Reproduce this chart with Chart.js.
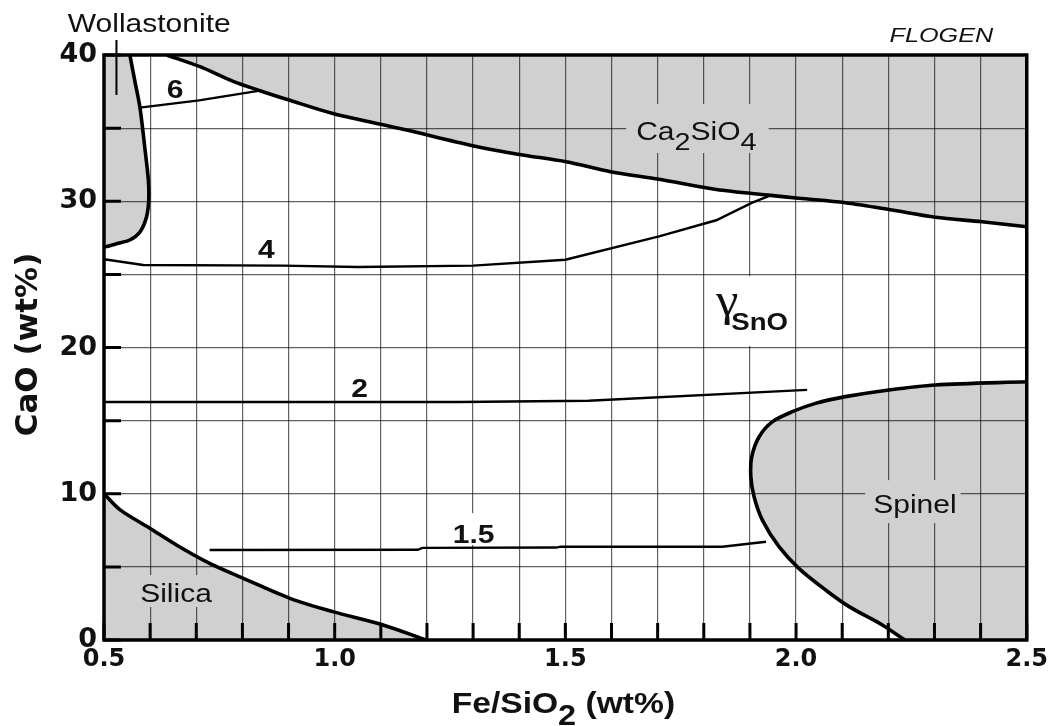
<!DOCTYPE html>
<html>
<head>
<meta charset="utf-8">
<script src="https://cdn.jsdelivr.net/npm/chart.js@4.4.1/dist/chart.umd.min.js"></script>
<style>
  body { margin: 0; background: #fff; }
  canvas { display: block; }
</style>
</head>
<body>
<canvas id="myChart" width="1053" height="726"></canvas>
<script>
const xTickLabels = ['0.5', '1.0', '1.5', '2.0', '2.5'];
const yTickLabels = ['0', '10', '20', '30', '40'];

// phase boundaries, points are [Fe/SiO2, CaO]
const wollastoniteBoundary = [[0.556, 40], [0.567, 38.2], [0.578, 36.4], [0.589, 33.5], [0.596, 31.5], [0.597, 30.1],
  [0.592, 28.9], [0.578, 27.9], [0.556, 27.35], [0.527, 27.1], [0.503, 26.9]];
const ca2sio4Boundary = [[0.636, 40], [0.708, 39.2], [0.78, 38.2], [0.838, 37.56], [0.903, 36.9], [0.996, 36.0],
  [1.151, 34.9], [1.299, 33.8], [1.40, 33.2], [1.502, 32.7], [1.60, 32.0], [1.703, 31.5], [1.827, 30.8],
  [1.945, 30.4], [2.006, 30.2], [2.107, 29.9], [2.208, 29.4], [2.302, 28.9], [2.403, 28.6], [2.5, 28.26]];
const silicaBoundary = [[0.5, 10.0], [0.535, 8.9], [0.6, 7.63], [0.657, 6.5], [0.729, 5.24], [0.802, 4.22],
  [0.903, 2.85], [0.996, 1.94], [1.105, 1.03], [1.198, 0]];
const spinelBoundary = [[2.5, 17.66], [2.302, 17.44], [2.201, 17.1], [2.107, 16.64], [2.042, 16.18], [1.992, 15.61],
  [1.949, 14.93], [1.92, 13.9], [1.904, 12.53], [1.902, 11.17], [1.909, 9.8], [1.927, 8.2], [1.963, 6.38],
  [2.006, 4.9], [2.064, 3.42], [2.115, 2.28], [2.187, 1.03], [2.23, 0.12], [2.235, 0]];

// corners outside the plot that close the shaded shapes
const wollastoniteClose = [[0.45, 26.9], [0.45, 41], [0.556, 41]];
const spinelClose = [[2.24, -1], [2.6, -1], [2.6, 17.7]];

// iso-activity lines of SnO
const contour6 = [[0.578, 36.4], [0.706, 36.9], [0.838, 37.56]];
const contour4 = [[0.5, 26.03], [0.585, 25.64], [0.888, 25.6], [1.05, 25.5], [1.30, 25.6], [1.50, 26.0],
  [1.703, 27.6], [1.827, 28.7], [1.905, 29.9], [1.945, 30.4]];
const contour2 = [[0.5, 16.27], [1.27, 16.27], [1.55, 16.36], [2.024, 17.1]];
const contour15 = [[0.729, 6.15], [1.18, 6.17], [1.19, 6.3], [1.48, 6.32], [1.49, 6.38], [1.84, 6.38], [1.935, 6.72]];
const wollastoniteMark = [[0.527, 41.03], [0.527, 37.26]];

const gray = '#d0d0d0';
const sans = '"Liberation Sans", Arial, sans-serif';
const stretch = 1.2;

const notes = [
  { text: 'Wollastonite', x: 0.598, y: 41.59, size: 25 },
  { text: 'FLOGEN', x: 2.315, y: 40.89, size: 21, style: 'italic' },
  { text: '6', x: 0.654, y: 37.06, size: 25, weight: 'bold' },
  { text: '4', x: 0.852, y: 26.12, size: 25, weight: 'bold' },
  { text: '2', x: 1.054, y: 16.62, size: 25, weight: 'bold' },
  { text: '1.5', x: 1.301, y: 6.63, size: 25, weight: 'bold', box: '#fff', pad: [12, 3, 2, 3] },
  { text: 'Ca_2SiO_4', x: 1.784, y: 34.19, size: 25, box: gray, pad: [18, 12, 13, 10] },
  { text: 'γ', x: 1.8506, y: 22.22, size: 46, family: '"Liberation Serif", serif', stretch: 1.1, box: '#fff', pad: [6, 49, 31, 3] },
  { text: 'SnO', x: 1.921, y: 21.2, size: 23, weight: 'bold' },
  { text: 'Spinel', x: 2.2576, y: 8.68, size: 25, box: gray, pad: [15, 4, 10, 8] },
  { text: 'Silica', x: 0.656, y: 2.6, size: 25, box: gray, pad: [9, 4, 5, 4] }
];

const pts = arr => arr.map(p => ({ x: p[0], y: p[1] }));

function drawNote(ctx, n, px, py) {
  const family = n.family || sans;
  const k = n.stretch || stretch;
  const main = `${n.style || ''} ${n.weight || ''} ${n.size}px ${family}`;
  const sub = `${n.style || ''} ${n.weight || ''} ${Math.round(n.size * 0.95)}px ${family}`;
  const parts = n.text.split(/_(.)/);
  ctx.save();
  ctx.translate(px, py);
  ctx.scale(k, 1);
  let total = 0;
  const widths = parts.map((t, i) => {
    ctx.font = i % 2 ? sub : main;
    const w = ctx.measureText(t).width;
    total += w;
    return w;
  });
  let cx = -total / 2;
  if (n.box) {
    const capH = n.size * 0.716;
    ctx.fillStyle = n.box;
    ctx.fillRect(cx - n.pad[3] / k, -capH - n.pad[0], total + (n.pad[1] + n.pad[3]) / k, capH + n.pad[0] + n.pad[2]);
  }
  ctx.fillStyle = '#111';
  ctx.textAlign = 'left';
  ctx.textBaseline = 'alphabetic';
  parts.forEach((t, i) => {
    ctx.font = i % 2 ? sub : main;
    ctx.fillText(t, cx, i % 2 ? n.size * 0.4 : 0);
    cx += widths[i];
  });
  ctx.restore();
}

const overlay = {
  id: 'overlay',
  afterDraw(chart) {
    const { ctx, chartArea: a, scales: { x, y } } = chart;
    ctx.save();
    ctx.strokeStyle = '#000';
    ctx.lineWidth = 3;
    ctx.beginPath();
    x.ticks.forEach(t => {
      const px = x.getPixelForValue(t.value);
      ctx.moveTo(px, a.bottom);
      ctx.lineTo(px, a.bottom - 17);
    });
    y.ticks.forEach(t => {
      const py = y.getPixelForValue(t.value);
      ctx.moveTo(a.left, py);
      ctx.lineTo(a.left + 17, py);
    });
    ctx.stroke();
    ctx.lineWidth = 3.5;
    ctx.strokeRect(a.left, a.top, a.right - a.left, a.bottom - a.top);

    notes.forEach(n => drawNote(ctx, n, x.getPixelForValue(n.x), y.getPixelForValue(n.y)));

    // axis titles
    drawNote(ctx, { text: 'Fe/SiO_2 (wt%)', size: 30, weight: 'bold', stretch: 1.12 },
      (a.left + a.right) / 2 - 2, a.bottom + 73);
    ctx.translate(37, (a.top + a.bottom) / 2 - 3);
    ctx.rotate(-Math.PI / 2);
    drawNote(ctx, { text: 'CaO (wt%)', size: 31, weight: 'bold', family: '"DejaVu Sans"', stretch: 1 }, 0, 0);
    ctx.restore();
  }
};

const region = (data, fill) => ({
  data: pts(data), showLine: true, fill: fill, backgroundColor: gray, borderColor: '#000',
  borderWidth: 3.6, tension: 0.3, pointRadius: 0, order: 2
});
const contour = data => ({
  data: pts(data), showLine: true, fill: false, borderColor: '#000',
  borderWidth: 2.4, tension: 0, pointRadius: 0, order: 1
});

const ctx = document.getElementById('myChart').getContext('2d');
const myChart = new Chart(ctx, {
  type: 'scatter',
  data: {
    datasets: [
      region(wollastoniteBoundary.concat(wollastoniteClose), 'shape'),
      region(ca2sio4Boundary, 'end'),
      region(silicaBoundary, 'start'),
      region(spinelBoundary.concat(spinelClose), 'shape'),
      contour(contour6),
      contour(contour4),
      contour(contour2),
      contour(contour15),
      Object.assign(contour(wollastoniteMark), { borderWidth: 2, clip: false })
    ]
  },
  options: {
    responsive: false,
    devicePixelRatio: 1,
    animation: false,
    events: [],
    layout: { padding: { left: 0, right: 25, top: 55, bottom: 0 } },
    plugins: { legend: { display: false }, tooltip: { enabled: false } },
    scales: {
      x: {
        type: 'linear', min: 0.5, max: 2.5,
        afterFit: s => { s.height = 86; },
        grid: { color: 'rgba(0,0,0,0.62)', lineWidth: 1.2, drawTicks: false, z: 1 },
        border: { display: false },
        ticks: {
          stepSize: 0.1, autoSkip: false, maxRotation: 0, padding: 5, color: '#111',
          font: { family: '"DejaVu Sans"', weight: 'bold', size: 24 },
          callback: v => {
            const s = (Math.round(v * 10) / 10).toFixed(1);
            return xTickLabels.includes(s) ? s : '';
          }
        }
      },
      y: {
        type: 'linear', min: 0, max: 40,
        afterFit: s => { s.width = 104; },
        grid: { color: 'rgba(0,0,0,0.62)', lineWidth: 1.2, drawTicks: false, z: 1 },
        border: { display: false },
        ticks: {
          stepSize: 5, autoSkip: false, padding: 7, color: '#111',
          font: { family: '"DejaVu Sans"', weight: 'bold', size: 27 },
          callback: v => {
            const s = String(Math.round(v));
            return yTickLabels.includes(s) ? s : '';
          }
        }
      }
    }
  },
  plugins: [overlay]
});
</script>
</body>
</html>
